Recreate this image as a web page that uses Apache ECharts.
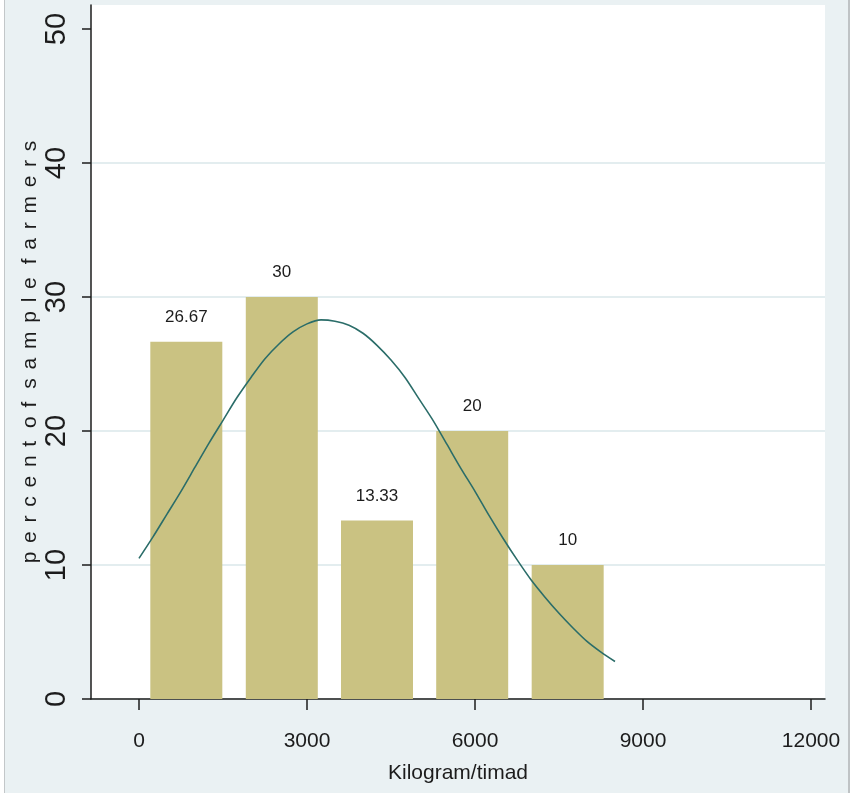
<!DOCTYPE html>
<html>
<head>
<meta charset="utf-8">
<script src="https://cdn.jsdelivr.net/npm/echarts@6/dist/echarts.min.js"></script>
<style>
  html, body { margin: 0; padding: 0; background: #ffffff; }
  #frame {
    position: absolute; left: 4px; top: 0; width: 843px; height: 793px;
    background: #eaf1f3;
    border-left: 1px solid #c3c7c9;
    border-right: 2px solid #bfc3c5;
  }
  #chart { position: absolute; left: 0; top: 0; width: 856px; height: 793px; }
</style>
</head>
<body>
<div id="frame"></div>
<div id="chart"></div>
<script>
  // histogram bins (bin centre in kg/timad) and percent of farmers
  const binCenters = [845, 2550, 4250, 5950, 7655];
  const binPercent = [26.67, 30, 13.33, 20, 10];
  const binLabels = ['26.67', '30', '13.33', '20', '10'];

  // overlaid normal curve
  const curveX = [0, 250, 500, 750, 1000, 1250, 1500, 1750, 2000, 2250, 2500, 2750,
    3000, 3250, 3500, 3750, 4000, 4250, 4500, 4750, 5000, 5250, 5500, 5750,
    6000, 6250, 6500, 6750, 7000, 7250, 7500, 7750, 8000, 8250, 8500];
  const curveY = [10.5, 12.1, 13.8, 15.5, 17.3, 19.1, 20.8, 22.5, 24.0, 25.4, 26.5, 27.4,
    28.0, 28.3, 28.2, 27.9, 27.3, 26.4, 25.3, 24.0, 22.4, 20.8, 19.0, 17.2,
    15.5, 13.7, 12.0, 10.4, 8.9, 7.6, 6.4, 5.3, 4.3, 3.5, 2.8];

  const xTicks = [0, 3000, 6000, 9000, 12000];
  const yTicks = [0, 10, 20, 30, 40, 50];

  const sans = "'Liberation Sans', Arial, sans-serif";
  const ink = '#1c1c1c';

  // spaced-out y title, as in the original
  const yTitle = 'percent of sample farmers'.split(' ')
    .map(w => w.split('').join('\u2005\u2006'))
    .join('\u2005\u2006\u2009');

  const option = {
    backgroundColor: 'transparent',
    animation: false,
    grid: {
      left: 91, right: 31, top: 5, bottom: 94,
      show: true, backgroundColor: '#ffffff', borderWidth: 0
    },
    xAxis: {
      type: 'value',
      min: -857, max: 12250,
      name: 'Kilogram/timad',
      nameLocation: 'middle',
      nameGap: 64,
      nameTextStyle: { fontFamily: sans, fontSize: 21, color: ink },
      axisLine: { onZero: false, lineStyle: { color: ink, width: 1.5 } },
      axisTick: { customValues: xTicks, length: 11, lineStyle: { color: ink, width: 1.5 } },
      axisLabel: {
        customValues: xTicks, margin: 32, fontFamily: sans, fontSize: 21, color: ink,
        formatter: v => String(v)
      },
      splitLine: { show: false }
    },
    yAxis: {
      type: 'value',
      min: 0, max: 51.8,
      name: yTitle,
      nameLocation: 'middle',
      nameRotate: 90,
      nameGap: 50,
      nameMoveOverlap: false,
      nameTextStyle: { fontFamily: sans, fontSize: 21, color: ink },
      axisLine: { onZero: false, lineStyle: { color: ink, width: 1.5 } },
      axisTick: { customValues: yTicks, length: 9, lineStyle: { color: ink, width: 1.5 } },
      axisLabel: { customValues: yTicks, rotate: 90, margin: 20, fontFamily: sans, fontSize: 29, color: ink },
      splitLine: {
        show: true,
        lineStyle: {
          color: ['#e3edef', '#e3edef', '#e3edef', '#e3edef', '#e3edef', 'rgba(0,0,0,0)'],
          width: 2
        }
      }
    },
    series: [
      {
        type: 'bar',
        barWidth: 72,
        data: binCenters.map((c, i) => [c, binPercent[i]]),
        itemStyle: { color: '#cac282' },
        label: {
          show: true,
          position: 'top',
          distance: 16,
          fontFamily: sans,
          fontSize: 17,
          color: ink,
          formatter: p => binLabels[p.dataIndex]
        },
        z: 2
      },
      {
        type: 'line',
        data: curveX.map((x, i) => [x, curveY[i]]),
        smooth: 0.3,
        showSymbol: false,
        lineStyle: { color: '#2b6d69', width: 1.6 },
        z: 3
      }
    ]
  };

  const chart = echarts.init(document.getElementById('chart'));
  chart.setOption(option);
</script>
</body>
</html>
